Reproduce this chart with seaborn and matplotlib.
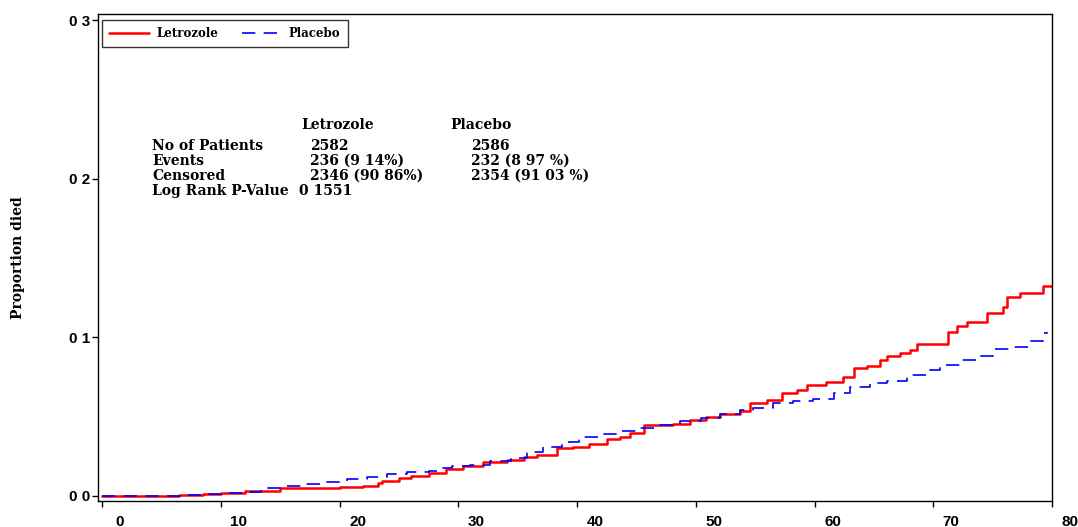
import numpy as np
import pandas as pd
import matplotlib
matplotlib.use("Agg")
import matplotlib.pyplot as plt
import matplotlib.transforms as mtransforms
import seaborn as sns

# months since randomisation vs cumulative proportion died
letrozole_t = [0, 6.5, 8.5, 10, 12, 13.3, 15, 17, 20, 22, 23.2, 23.6, 25, 26, 27.5,
               29, 30.4, 32.1, 34.1, 35.5, 36.6, 38.3, 39.7, 41, 42.5, 43.6, 44.5,
               45.6, 48.1, 49.5, 50.9, 52, 53.7, 54.6, 56, 57.3, 58.5, 59.4, 61,
               62.4, 63.3, 64.4, 65.5, 66.1, 67.2, 68, 68.6, 71.2, 72, 72.8, 74.5,
               75.9, 76.2, 77.3, 79.2, 80]
letrozole_p = [0, 0.0005, 0.001, 0.002, 0.0028, 0.0033, 0.0048, 0.0052, 0.0057,
               0.0065, 0.008, 0.0095, 0.011, 0.0126, 0.0145, 0.017, 0.019, 0.0215,
               0.0227, 0.0245, 0.026, 0.030, 0.031, 0.033, 0.036, 0.0374, 0.040,
               0.0448, 0.0454, 0.048, 0.050, 0.052, 0.0536, 0.0587, 0.0606, 0.065,
               0.067, 0.070, 0.072, 0.0753, 0.081, 0.082, 0.086, 0.088, 0.090,
               0.092, 0.096, 0.1035, 0.107, 0.110, 0.1155, 0.119, 0.1255, 0.128,
               0.1325, 0.1325]

placebo_t = [0, 7, 9, 10.2, 11.9, 13.4, 15.2, 16.9, 18.6, 20.6, 22.3, 24, 25.7,
             27.5, 28.5, 29.5, 31, 32.7, 34.4, 35.8, 37.1, 38.7, 40.2, 42.1, 43.6,
             45.3, 47, 48.7, 50.4, 52, 53.7, 54.8, 56.5, 58.2, 59.9, 61.6, 63,
             64.7, 66.1, 67.8, 69.5, 70.6, 72.3, 73.7, 75, 76.7, 78.1, 79.2, 79.6]
placebo_p = [0, 0.0008, 0.0015, 0.002, 0.0026, 0.0052, 0.0063, 0.0075, 0.009,
             0.0107, 0.012, 0.0139, 0.015, 0.0158, 0.0175, 0.019, 0.0196, 0.022,
             0.024, 0.0277, 0.031, 0.0343, 0.0374, 0.039, 0.041, 0.043, 0.0448,
             0.047, 0.049, 0.0517, 0.054, 0.0555, 0.0587, 0.060, 0.061, 0.065,
             0.069, 0.0713, 0.0726, 0.0763, 0.0795, 0.0826, 0.086, 0.088, 0.093,
             0.094, 0.098, 0.103, 0.1035]

x_ticks = [0, 10, 20, 30, 40, 50, 60, 70, 80]
y_ticks = [0.0, 0.1, 0.2, 0.3]
y_tick_labels = ["0 0", "0 1", "0 2", "0 3"]

row_labels = ["No of Patients", "Events", "Censored", "Log Rank P-Value"]
letrozole_col = ["2582", "236 (9 14%)", "2346 (90 86%)"]
placebo_col = ["2586", "232 (8 97 %)", "2354 (91 03 %)"]
p_value = "0 1551"

sns.set_style("ticks")
plt.rcParams["font.family"] = ["Liberation Sans", "DejaVu Sans"]

fig = plt.figure(figsize=(10.78, 5.27), dpi=100)
ax = fig.add_axes([98 / 1078, 26 / 527, 954 / 1078, 487 / 527])

let_df = pd.DataFrame({"t": letrozole_t, "p": letrozole_p})
pla_df = pd.DataFrame({"t": placebo_t, "p": placebo_p})

sns.lineplot(data=let_df, x="t", y="p", ax=ax, color="red", linewidth=1.8,
             drawstyle="steps-post", errorbar=None, label="Letrozole")
sns.lineplot(data=pla_df, x="t", y="p", ax=ax, color="blue", linewidth=1.2,
             drawstyle="steps-post", errorbar=None, label="Placebo")
ax.lines[1].set_dashes((8, 5))

ax.set_xlim(-0.34, 80)
ax.set_ylim(-0.0032, 0.3041)
ax.set_xticks(x_ticks)
ax.set_xticklabels([str(v) for v in x_ticks], fontsize=11, fontweight="bold")
ax.set_yticks(y_ticks)
ax.set_yticklabels(y_tick_labels, fontsize=11, fontweight="bold")
ax.tick_params(axis="both", direction="out", length=4, width=1, color="black",
               labelcolor="black")
ax.tick_params(axis="x", pad=6)
ax.tick_params(axis="y", pad=1.5)
offset = mtransforms.ScaledTranslation(0.18, 0, fig.dpi_scale_trans)
for lab in ax.get_xticklabels():
    lab.set_transform(lab.get_transform() + offset)
ax.set_xlabel("")
ax.set_ylabel("Proportion died", family="DejaVu Serif", fontweight="bold",
              fontsize=10, labelpad=32, color="black")
for s in ax.spines.values():
    s.set_visible(True)
    s.set_color("black")
    s.set_linewidth(1)

leg = ax.legend(loc="upper left", bbox_to_anchor=(0.004, 0.988), ncol=2,
                borderaxespad=0, frameon=True, fancybox=False,
                prop={"family": "DejaVu Serif", "weight": "bold", "size": 8.5},
                handlelength=3.4, handletextpad=0.6, columnspacing=2.0,
                borderpad=0.6)
leg.get_frame().set_edgecolor("black")
leg.get_frame().set_linewidth(1)
for t in leg.get_texts():
    t.set_color("black")

serif = dict(family="DejaVu Serif", fontweight="bold", fontsize=10, va="center",
             color="black")
ax.text(16.8, 0.234, "Letrozole", **serif)
ax.text(29.3, 0.234, "Placebo", **serif)
row_y = [0.2208, 0.2114, 0.2019, 0.1924]
for lab, yy in zip(row_labels, row_y):
    ax.text(4.2, yy, lab, **serif)
for val, yy in zip(letrozole_col, row_y):
    ax.text(17.5, yy, val, **serif)
for val, yy in zip(placebo_col, row_y):
    ax.text(31.1, yy, val, **serif)
ax.text(16.6, row_y[3], p_value, **serif)

fig.savefig("out.png", dpi=100)
